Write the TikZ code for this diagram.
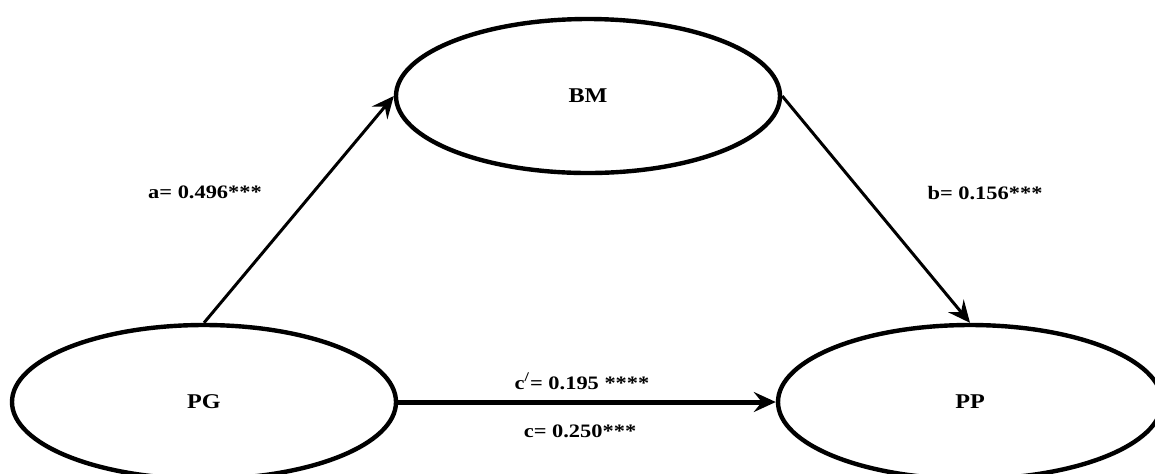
\documentclass[tikz,border=0pt]{standalone}
\usepackage{fontspec}
\setmainfont{Liberation Serif}
\usetikzlibrary{arrows.meta,positioning,shapes.geometric}

\begin{document}
\begin{tikzpicture}[x=0.5pt, y=-0.5pt, >={Stealth[length=11pt, width=10pt, inset=4pt]}]
  % рамка рисунка (пиксели исходника)
  \useasboundingbox (0,0) rectangle (1155,473);
  \clip (0,0) rectangle (1155,473);

  \tikzset{
    var/.style={ellipse, draw, line width=2.2pt, minimum width=192pt, minimum height=77pt,
      inner sep=0pt, font=\bfseries\fontsize{10.5}{12}\selectfont},
    coef/.style={font=\bfseries\fontsize{9.5}{11}\selectfont, xscale=1.18, transform shape},
    path/.style={->, line width=1.5pt}
  }

  % переменные
  \node[var] (bm) at (588,96) {\scalebox{1.15}[1]{BM}};
  \node[var] (pg) at (204,402) {\scalebox{1.15}[1]{PG}};
  \node[var] (pp) at (970,402) {\scalebox{1.15}[1]{PP}};

  % пути
  \draw[path] (pg.north) -- (bm.west);
  \draw[path] (bm.east) -- (pp.north);
  \draw[path, line width=2.5pt] (pg.east) -- (pp.west);

  % коэффициенты
  \node[coef] (a) at (205,192) {a= 0.496***};
  \node[coef] (b) at (985,193) {b= 0.156***};
  \node[coef] (cp) at (582,381) {c\textsuperscript{/}= 0.195 ****};
  \node[coef] (c) at (580,431) {c= 0.250***};
\end{tikzpicture}
\end{document}
